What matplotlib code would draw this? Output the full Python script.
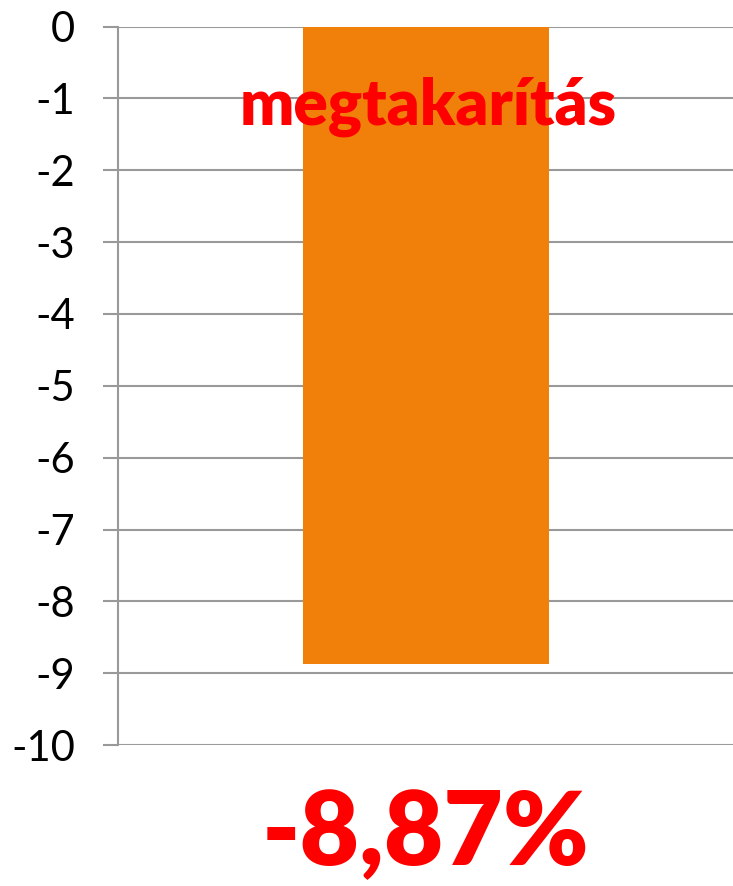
import matplotlib.pyplot as plt

categories = ["megtakarítás"]
values = [-8.87]
yticks = list(range(0, -11, -1))
ytick_labels = ["0", "-1", "-2", "-3", "-4", "-5", "-6", "-7", "-8", "-9", "-10"]
result_label = "-8,87%"

plt.rcParams['font.family'] = ['Lato', 'DejaVu Sans']

fig = plt.figure(figsize=(7.33, 8.86), dpi=100)
ax = fig.add_axes([0.161, 0.159, 0.839, 0.811])

ax.bar([0], values, width=0.40, color="#f0800a", zorder=2)
ax.set_xlim(-0.5, 0.5)
ax.set_ylim(-10, 0)
ax.set_xticks([])
ax.set_yticks(yticks)
ax.set_yticklabels(ytick_labels, fontsize=30)
ax.tick_params(axis="y", length=11, width=1.5, color="#999999", pad=20)

ax.grid(axis="y", color="#999999", linewidth=1.5, zorder=1)
for side in ["top", "right", "bottom"]:
    ax.spines[side].set_visible(False)
ax.spines["left"].set_color("#999999")
ax.spines["left"].set_linewidth(1.5)

ax.text(0.005, -1.12, categories[0], ha="center", va="center",
        fontsize=46, fontweight="heavy", color="#ff0000", zorder=3)

fig.text(0.58, 0.058, result_label, ha="center", va="center",
         fontsize=74, fontweight="heavy", color="#ff0000")

fig.savefig("out.png", dpi=100)
